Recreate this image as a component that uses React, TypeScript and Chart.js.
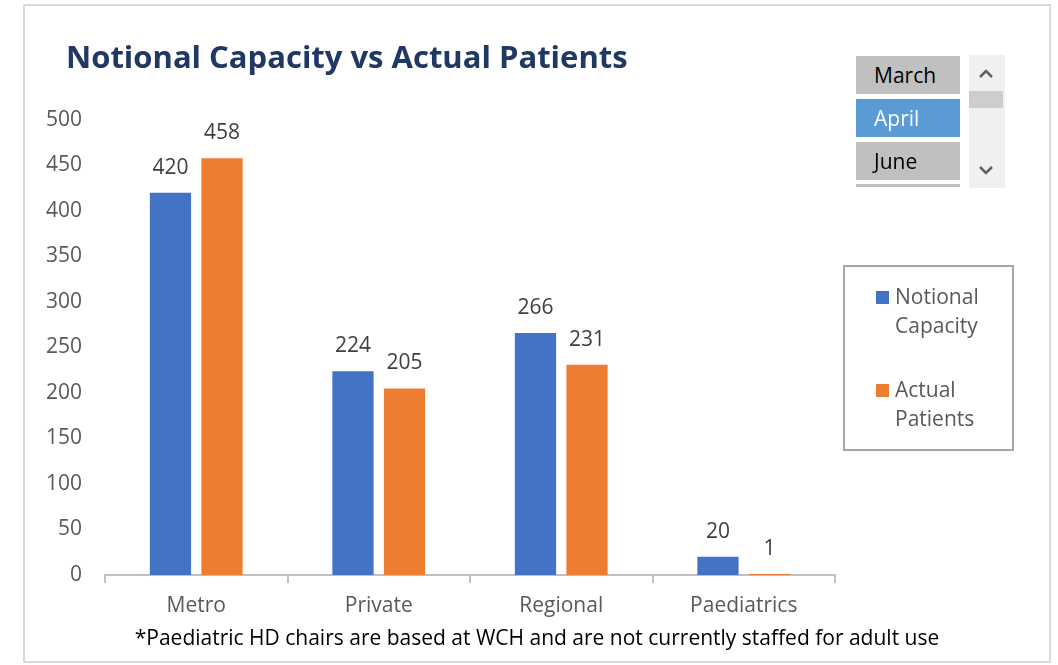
import React, { useEffect, useRef } from "react";
import { Chart, registerables } from "chart.js";

Chart.register(...registerables);

const categories = ["Metro", "Private", "Regional", "Paediatrics"];
const notionalCapacity = [420, 224, 266, 20];
const actualPatients = [458, 205, 231, 1];
const seriesNames = [["Notional", "Capacity"], ["Actual", "Patients"]];
const months = ["March", "April", "June"];
const selectedMonth = "April";
const yMax = 500;
const yStep = 50;
const titleText = "Notional Capacity vs Actual Patients";
const footnoteText = "*Paediatric HD chairs are based at WCH and are not currently staffed for adult use";

const BLUE = "#4472C4";
const ORANGE = "#ED7D31";
const FONT = "'Open Sans', Lato, sans-serif";

const valueLabels = {
  id: "valueLabels",
  afterDatasetsDraw(chart: any) {
    const ctx = chart.ctx;
    ctx.save();
    ctx.font = `21px ${FONT}`;
    ctx.fillStyle = "#404040";
    ctx.textAlign = "center";
    ctx.textBaseline = "middle";
    chart.data.datasets.forEach((ds: any, i: number) => {
      const meta = chart.getDatasetMeta(i);
      meta.data.forEach((bar: any, j: number) => {
        ctx.fillText(String(ds.data[j]), bar.x, bar.y - 25);
      });
    });
    ctx.restore();
  },
};

export default function App() {
  const ref = useRef<HTMLCanvasElement | null>(null);

  useEffect(() => {
    if (!ref.current) return;
    const chart = new Chart(ref.current, {
      type: "bar",
      data: {
        labels: categories,
        datasets: [
          { label: seriesNames[0].join(" "), data: notionalCapacity, backgroundColor: BLUE, categoryPercentage: 0.565, barPercentage: 0.8 },
          { label: seriesNames[1].join(" "), data: actualPatients, backgroundColor: ORANGE, categoryPercentage: 0.565, barPercentage: 0.8 },
        ],
      },
      options: {
        responsive: false,
        animation: false,
        layout: { padding: { left: 0, right: 223, top: 120, bottom: 0 } },
        plugins: { legend: { display: false }, tooltip: { enabled: false }, title: { display: false } },
        scales: {
          x: {
            grid: { display: true, drawOnChartArea: false, drawTicks: true, tickLength: 8, color: "#BFBFBF", lineWidth: 2, offset: true },
            border: { display: true, color: "#BFBFBF", width: 2 },
            ticks: { color: "#595959", font: { size: 21, family: FONT }, padding: 10 },
            afterFit: (s: any) => { s.height = 90; },
          },
          y: {
            min: 0,
            max: yMax,
            grid: { display: false },
            border: { display: false },
            ticks: { stepSize: yStep, color: "#595959", font: { size: 21, family: FONT }, padding: 15 },
            afterFit: (s: any) => { s.width = 105; },
          },
        },
      },
      plugins: [valueLabels],
    });
    return () => chart.destroy();
  }, []);

  const item = (m: string, top: number) => (
    <div key={m} style={{
      position: "absolute", left: 856, top, width: 104, height: 38,
      background: m === selectedMonth ? "#5B9BD5" : "#C0C0C0",
      color: m === selectedMonth ? "#FFFFFF" : "#000000",
      fontFamily: FONT, fontSize: 21, lineHeight: "38px", paddingLeft: 18, boxSizing: "border-box",
    }}>{m}</div>
  );

  return (
    <div style={{ position: "absolute", left: 0, top: 0, width: 1058, height: 665, background: "#fff", overflow: "hidden" }}>
      <div style={{ position: "absolute", left: 23, top: 4, width: 1028, height: 659, border: "2px solid #D9D9D9", boxSizing: "border-box" }} />
      <canvas ref={ref} width={1058} height={665} style={{ position: "absolute", left: 0, top: 0 }} />
      <div style={{ position: "absolute", left: 66, top: 35, fontFamily: FONT, fontWeight: 700, fontSize: 31, color: "#203864", whiteSpace: "nowrap", lineHeight: "42px" }}>{titleText}</div>
      <div style={{ position: "absolute", left: 0, width: 1074, top: 623, textAlign: "center", fontFamily: FONT, fontSize: 21, color: "#000", whiteSpace: "nowrap", lineHeight: "28px" }}>{footnoteText}</div>

      {months.map((m, i) => item(m, 56 + i * 43))}
      <div style={{ position: "absolute", left: 856, top: 184, width: 104, height: 3, background: "#C0C0C0" }} />
      <div style={{ position: "absolute", left: 969, top: 55, width: 36, height: 133, background: "#F0F0F0" }} />
      <div style={{ position: "absolute", left: 969, top: 91, width: 34, height: 17, background: "#CDCDCD" }} />
      <svg style={{ position: "absolute", left: 978, top: 68 }} width={16} height={12}>
        <polyline points="2,9 8,3 14,9" fill="none" stroke="#606060" strokeWidth={2.5} />
      </svg>
      <svg style={{ position: "absolute", left: 978, top: 164 }} width={16} height={12}>
        <polyline points="2,3 8,9 14,3" fill="none" stroke="#606060" strokeWidth={2.5} />
      </svg>

      <div style={{ position: "absolute", left: 843, top: 265, width: 171, height: 186, border: "2px solid #A6A6A6", boxSizing: "border-box" }} />
      {[BLUE, ORANGE].map((c, i) => (
        <React.Fragment key={c}>
          <div style={{ position: "absolute", left: 876, top: 291 + i * 93, width: 13, height: 13, background: c }} />
          <div style={{ position: "absolute", left: 895, top: 282 + i * 93, fontFamily: FONT, fontSize: 21, color: "#595959", lineHeight: "29px", whiteSpace: "nowrap" }}>
            {seriesNames[i][0]}<br />{seriesNames[i][1]}
          </div>
        </React.Fragment>
      ))}
    </div>
  );
}
